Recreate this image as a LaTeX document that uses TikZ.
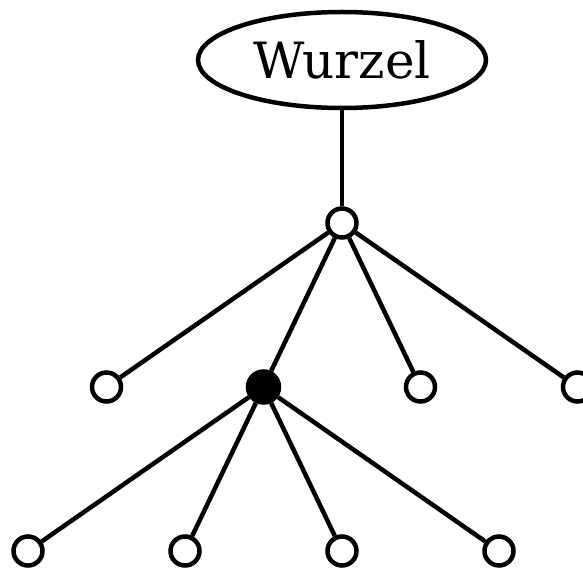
\documentclass[tikz,border=0pt]{standalone}
\usepackage{fontspec}
\setmainfont{DejaVu Serif}
\usetikzlibrary{shapes.geometric,positioning}

\begin{document}
\begin{tikzpicture}
            [
            x=1pt, y=1pt, on grid, line width=4.5pt,
            root/.style={ellipse, draw, minimum width=288pt,
                minimum height=96pt, font=\fontsize{50}{60}\selectfont},
            leaf/.style={circle, draw, minimum size=29pt, inner sep=0pt},
            marked/.style={leaf, fill, minimum size=31pt}
            ]
            \useasboundingbox (0,0) rectangle (583,-569);
            \node (w) [root] at (342,-60) {Wurzel};
            \node (r) [below=163pt of w, leaf] {};

            % first level
            \node (b) [below left=164pt and 78.5pt of r, marked] {};
            \node (a) [left=157pt of b, leaf] {};
            \node (c) [right=157pt of b, leaf] {};
            \node (d) [right=157pt of c, leaf] {};

            % second level below the marked node
            \node (f) [below left=164pt and 78.5pt of b, leaf] {};
            \node (e) [left=157pt of f, leaf] {};
            \node (g) [right=157pt of f, leaf] {};
            \node (h) [right=157pt of g, leaf] {};

            \foreach \i/\j in {w/r,r/a,r/b,r/c,r/d,b/e,b/f,b/g,b/h}
            \draw (\i) -- (\j);
        \end{tikzpicture}
\end{document}
